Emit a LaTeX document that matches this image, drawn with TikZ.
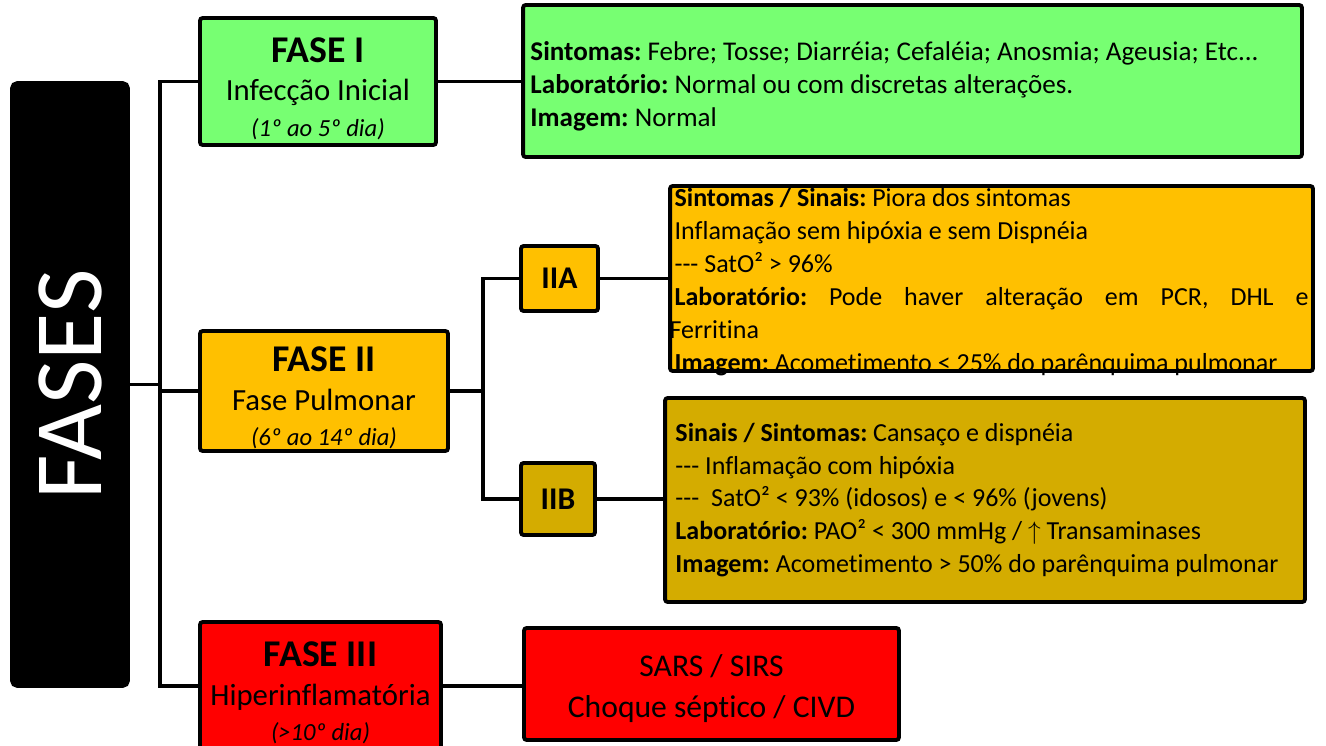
\documentclass[tikz,border=0pt]{standalone}
\usepackage{fontspec}
\setmainfont{Carlito}[Ligatures=NoCommon]
\frenchspacing
\definecolor{fgreen}{RGB}{119,255,114}
\definecolor{fgold}{RGB}{255,192,0}
\definecolor{fdgold}{RGB}{212,172,0}
\definecolor{fred}{RGB}{255,0,0}
\begin{document}
\begin{tikzpicture}[x=0.02cm, y=-0.02cm,
box/.style = {draw=black, line width=2.2pt, rounded corners=1.5pt, inner sep=0pt},
fase/.style = {box, align=center, font=\fontsize{17.5}{22}\selectfont},
info/.style = {inner sep=0pt, font=\fontsize{14.8}{18.7}\selectfont},
conn/.style = {line width=2.2pt}
                        ]
\useasboundingbox (0,0) rectangle (1326,746);

    \node[box, fill=black, rounded corners=3pt, minimum width=2.32cm, minimum height=12.06cm,
          text=white, font=\fontsize{55}{60}\selectfont] (F) at (70,384.5) {\rotatebox{90}{FASES}};

    \node[fase, fill=fgreen, minimum width=4.72cm, minimum height=2.54cm] (F1) at (318,81.5)
        {\rule{0pt}{22pt}{\fontsize{21.5}{24}\selectfont\bfseries FASE I}\\Infecção Inicial\\[-2pt]{\fontsize{14}{20}\selectfont\itshape (1º ao 5º dia)}};
    \node[fase, fill=fgold, minimum width=4.96cm, minimum height=2.4cm] (F2) at (324,391)
        {\rule{0pt}{22pt}{\fontsize{21.5}{24}\selectfont\bfseries FASE II}\\Fase Pulmonar\\[-2pt]{\fontsize{14}{20}\selectfont\itshape (6º ao 14º dia)}};
    \node[fase, fill=fred, minimum width=4.82cm, minimum height=2.56cm] (F3) at (320.5,686)
        {\rule{0pt}{22pt}{\fontsize{21.5}{24}\selectfont\bfseries FASE III}\\Hiperinflamatória\\[-2pt]{\fontsize{14}{20}\selectfont\itshape (>10º dia)}};

    \node[box, fill=fgold, minimum width=1.54cm, minimum height=1.3cm,
          font=\fontsize{18}{22}\selectfont\bfseries] (A) at (559.5,278.5) {IIA};
    \node[box, fill=fdgold, minimum width=1.48cm, minimum height=1.44cm,
          font=\fontsize{18}{22}\selectfont\bfseries] (B) at (558,499) {IIB};

    \node[box, fill=fgreen, minimum width=15.58cm, minimum height=3.04cm] (D1) at (912.5,81) {};
    \node[info, align=flush left, text width=15.26cm, anchor=west,
          font=\fontsize{15.4}{18.7}\selectfont] (D1text) at ([xshift=0.18cm, yshift=-3pt]D1.west)
        {\textbf{Sintomas:} Febre; Tosse; Diarréia; Cefaléia; Anosmia; Ageusia; Etc...\\
         \textbf{Laboratório:} Normal ou com discretas alterações.\\
         \textbf{Imagem:} Normal};

    \node[box, fill=fgold, minimum width=12.86cm, minimum height=3.7cm] (DA) at (991.5,278.5) {};
    \node[info, align=justify, text width=12.68cm] (DAtext) at ([yshift=-2pt]DA.center)
        {\textbf{Sintomas / Sinais:} Piora dos sintomas\\
         Inflamação sem hipóxia e sem Dispnéia\\
         -{}-{}- SatO² > 96\%\\
         \textbf{Laboratório:} Pode haver alteração em PCR, DHL e\linebreak
         \hspace*{-0.1cm}Ferritina\\
         \textbf{Imagem:} Acometimento < 25\% do parênquima pulmonar};

    \node[box, fill=fdgold, minimum width=12.8cm, minimum height=4.08cm] (DB) at (985,500) {};
    \node[info, align=flush left, text width=12.5cm, anchor=west] (DBtext) at ([xshift=0.24cm]DB.west)
        {\textbf{Sinais / Sintomas:} Cansaço e dispnéia\\
         -{}-{}- Inflamação com hipóxia\\
         -{}-{}-\ \ SatO² < 93\% (idosos) e < 96\% (jovens)\\
         \textbf{Laboratório:} PAO² < 300 mmHg / $\uparrow$ Transaminases\\
         \textbf{Imagem:} Acometimento > 50\% do parênquima pulmonar};

    \node[box, fill=fred, align=center, minimum width=7.5cm, minimum height=2.24cm,
          font=\fontsize{18}{23.5}\selectfont] (D3) at (711.5,684)
        {\rule{0pt}{18pt}SARS / SIRS\\Choque séptico / CIVD};

    \coordinate (top) at (160,82);
    \coordinate (bot) at (160,686);
    \coordinate (fork) at (483,391);

    \draw[conn] (F1.west) -| (bot) -- (F3.west);
    \draw[conn] (F.east) -- (F.east -| top);
    \draw[conn] (F2.west) -- (F2.west -| top);
    \draw[conn] (F2.east) -- (F2.east -| fork);
    \draw[conn] (A.west) -| (B.west -| fork) -- (B.west);

    \draw[conn] (F1.east) -- (F1.east -| D1.west);
    \draw[conn] (A.east) -- (A.east -| DA.west);
    \draw[conn] (B.east) -- (B.east -| DB.west);
    \draw[conn] (F3.east) -- (F3.east -| D3.west);

\end{tikzpicture}
\end{document}
